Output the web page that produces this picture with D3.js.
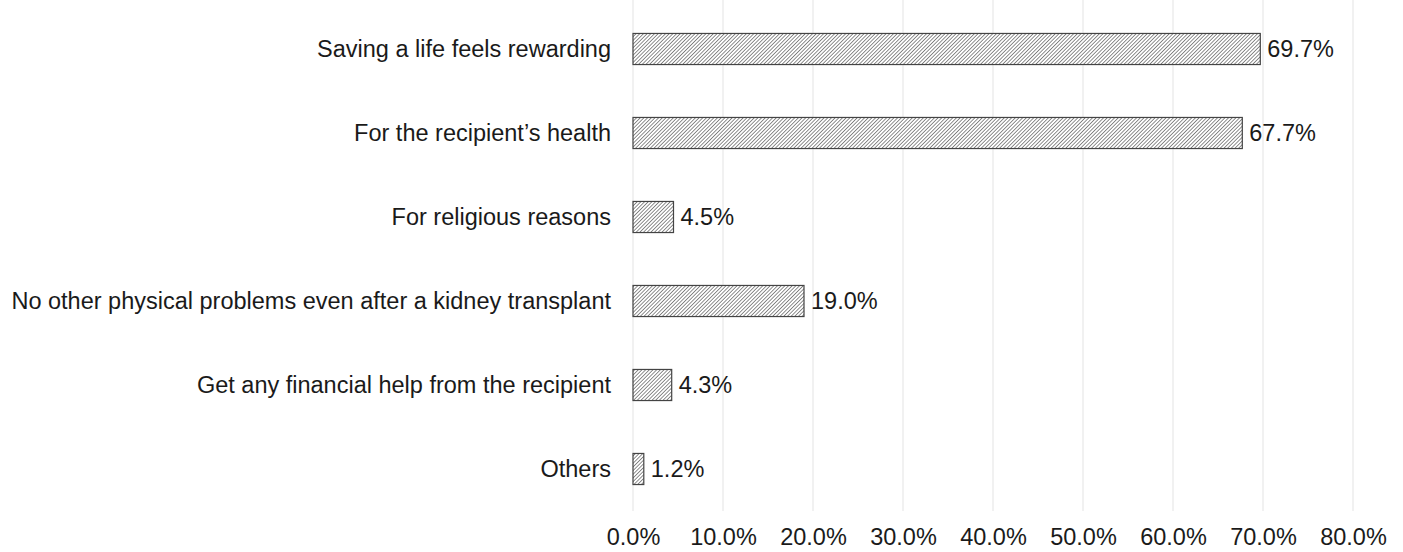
<!DOCTYPE html>
<html>
<head>
<meta charset="utf-8">
<script src="https://cdn.jsdelivr.net/npm/d3@7"></script>
<style>
  body { margin: 0; background: #fff; }
  text { font-family: "Liberation Sans", Arial, sans-serif; }
</style>
</head>
<body>
<div id="chart"></div>
<script>
// chart data
var categories = [
  "Saving a life feels rewarding",
  "For the recipient\u2019s health",
  "For religious reasons",
  "No other physical problems even after a kidney transplant",
  "Get any financial help from the recipient",
  "Others"
];
var values = [69.7, 67.7, 4.5, 19.0, 4.3, 1.2];
var tickValues = [0, 10, 20, 30, 40, 50, 60, 70, 80];

var w = 1403;
var h = 552;
var plotLeft = 633, plotRight = 1353;
var plotTop = 7, plotBottom = 511;
var fontSize = "23.5px";

var svg = d3.select("#chart")
  .append("svg")
  .attr("width", w)
  .attr("height", h);

// hatch pattern for the bars
var pat = svg.append("defs").append("pattern")
  .attr("id", "hatch")
  .attr("patternUnits", "userSpaceOnUse")
  .attr("width", 2.6)
  .attr("height", 2.6)
  .attr("patternTransform", "rotate(45)");
pat.append("rect").attr("width", 2.6).attr("height", 2.6).attr("fill", "#fff");
pat.append("line")
  .attr("x1", 0).attr("y1", 0).attr("x2", 0).attr("y2", 2.6)
  .attr("stroke", "#444")
  .attr("stroke-width", 1.2);

var xScale = d3.scaleLinear()
  .domain([0, 80])
  .range([plotLeft, plotRight]);

var yScale = d3.scaleBand()
  .domain(categories)
  .range([plotTop, plotBottom])
  .paddingInner(0.63)
  .paddingOuter(0.315);

// gridlines
svg.append("g")
  .selectAll("line")
  .data(tickValues)
  .enter()
  .append("line")
  .attr("x1", function(d) { return xScale(d); })
  .attr("x2", function(d) { return xScale(d); })
  .attr("y1", 0)
  .attr("y2", plotBottom)
  .attr("stroke", "#e3e3e3")
  .attr("stroke-width", 1);

// x axis labels
var xAxis = d3.axisBottom()
  .scale(xScale)
  .tickValues(tickValues)
  .tickSize(0)
  .tickPadding(0)
  .tickFormat(function(d) { return d.toFixed(1) + "%"; });

var gx = svg.append("g")
  .attr("transform", "translate(0," + 545 + ")")
  .call(xAxis);
gx.select(".domain").remove();
gx.selectAll("text")
  .attr("y", 0)
  .attr("dy", 0)
  .attr("font-size", fontSize)
  .attr("fill", "#1a1a1a")
  .style("font-family", "'Liberation Sans', Arial, sans-serif");

// y axis labels
var yAxis = d3.axisLeft()
  .scale(yScale)
  .tickSize(0)
  .tickPadding(22);

var gy = svg.append("g")
  .attr("transform", "translate(" + plotLeft + ",0)")
  .call(yAxis);
gy.select(".domain").remove();
gy.selectAll("text")
  .attr("font-size", fontSize)
  .attr("fill", "#1a1a1a")
  .style("font-family", "'Liberation Sans', Arial, sans-serif");

// bars
svg.selectAll("rect.bar")
  .data(values)
  .enter()
  .append("rect")
  .attr("class", "bar")
  .attr("x", xScale(0))
  .attr("y", function(d, i) { return yScale(categories[i]); })
  .attr("width", function(d) { return xScale(d) - xScale(0); })
  .attr("height", yScale.bandwidth())
  .attr("fill", "url(#hatch)")
  .attr("stroke", "#444")
  .attr("stroke-width", 1.2);

// value labels
svg.selectAll("text.val")
  .data(values)
  .enter()
  .append("text")
  .attr("class", "val")
  .attr("x", function(d) { return xScale(d) + 7; })
  .attr("y", function(d, i) { return yScale(categories[i]) + yScale.bandwidth() / 2; })
  .attr("dy", "0.35em")
  .attr("font-size", fontSize)
  .attr("fill", "#1a1a1a")
  .text(function(d) { return d.toFixed(1) + "%"; });
</script>
</body>
</html>
